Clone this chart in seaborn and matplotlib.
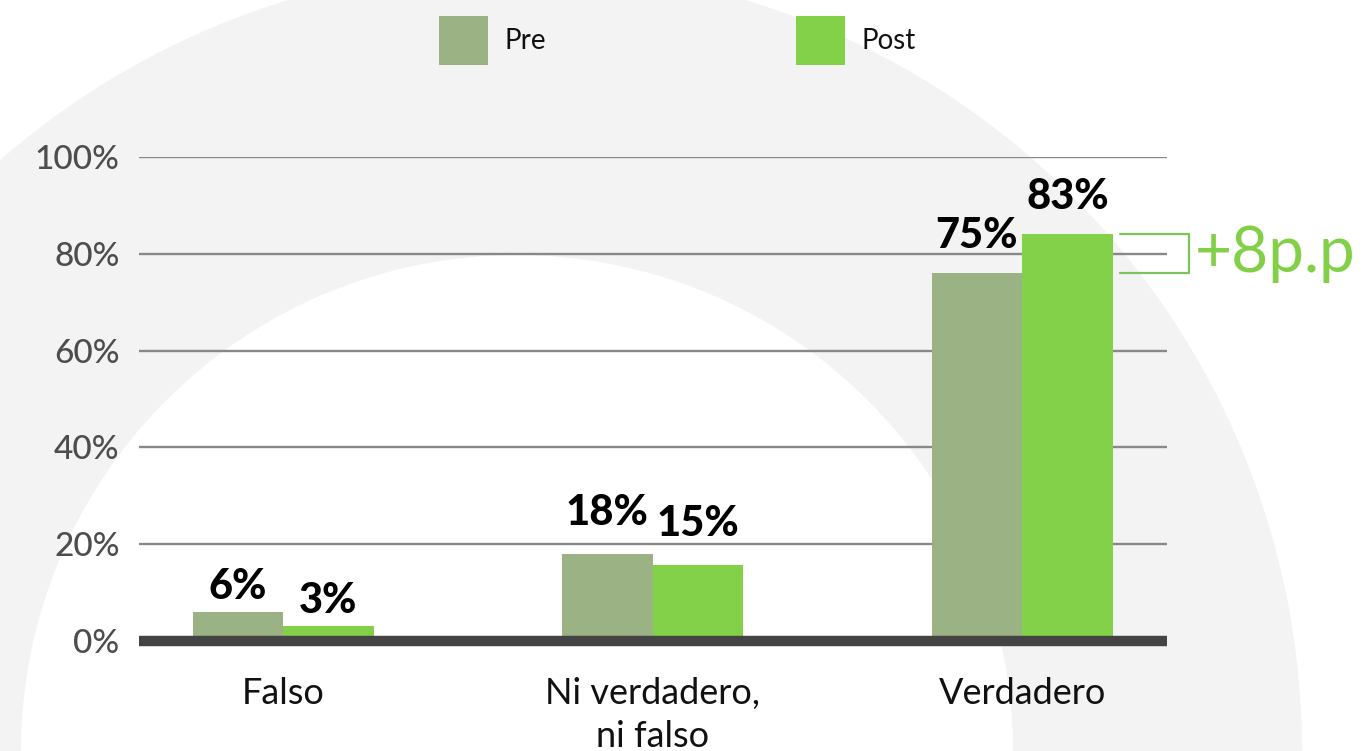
import matplotlib
matplotlib.use("Agg")
import matplotlib.pyplot as plt
import matplotlib.transforms as mtransforms
from matplotlib.patches import Wedge
import seaborn as sns
import pandas as pd

# data
categories = ["Falso", "Ni verdadero,\nni falso", "Verdadero"]
series = ["Pre", "Post"]
pre_values = [6.0, 17.9, 76.0]
post_values = [3.1, 15.7, 84.1]
pre_labels = ["6%", "18%", "75%"]
post_labels = ["3%", "15%", "83%"]
y_ticks = [0, 20, 40, 60, 80, 100]
y_tick_labels = ["0%", "20%", "40%", "60%", "80%", "100%"]
diff_label = "+8p.p"

colors = ["#9bb384", "#82d148"]

df = pd.DataFrame({
    "categoria": categories * 2,
    "valor": pre_values + post_values,
    "momento": [series[0]] * len(categories) + [series[1]] * len(categories),
})

sns.set_style("white")
plt.rcParams["font.family"] = ["Lato", "DejaVu Sans"]

W, H = 1372, 751
fig = plt.figure(figsize=(W / 100, H / 100), dpi=100)

# light grey ring in the background
bg = fig.add_axes([0, 0, 1, 1], zorder=0)
bg.set_xlim(0, W)
bg.set_ylim(H, 0)
bg.axis("off")
bg.add_patch(Wedge((517, 751), 785, 0, 360, width=289, color="#f3f3f3", lw=0))

ax = fig.add_axes([139 / W, (H - 641) / H, 1028 / W, 484 / H], zorder=1)
ax.patch.set_alpha(0)

sns.barplot(data=df, x="categoria", y="valor", hue="momento", hue_order=series,
            palette=colors, width=0.49, saturation=1, linewidth=0,
            ax=ax, zorder=2)

ax.set_xlim(-0.39, 2.392)
ax.set_ylim(0, 100)
ax.set_yticks(y_ticks, y_tick_labels)
for y in y_ticks[1:]:
    ax.axhline(y, color="#888888", lw=1.7, zorder=1)
ax.axhline(0, color="#444444", lw=7.5, zorder=3, clip_on=False,
           solid_capstyle="butt")

sns.despine(ax=ax, left=True, bottom=True)
ax.set_xlabel("")
ax.set_ylabel("")
ax.tick_params(axis="y", length=0, pad=14, labelsize=24, labelcolor="#4d4d4d")
ax.tick_params(axis="x", length=0, pad=26, labelsize=26, labelcolor="#111111")
for t in ax.get_yticklabels():
    t.set_fontweight("medium")
for t in ax.get_xticklabels():
    t.set_linespacing(1.35)

# value labels above bars
label_pad = [4, 16, 13]
for cont, labs in zip(ax.containers, [pre_labels, post_labels]):
    for i, (bar, lab) in enumerate(zip(cont, labs)):
        ax.annotate(lab, (bar.get_x() + bar.get_width() / 2, bar.get_height()),
                    xytext=(0, label_pad[i]), textcoords="offset points",
                    ha="center", va="bottom", fontsize=30, fontweight="black",
                    color="#000000")

# legend at the top
handles, labels = ax.get_legend_handles_labels()
ax.legend(handles, labels, loc="upper left", bbox_to_anchor=(439 / W, 1 - 16 / H),
          bbox_transform=fig.transFigure, ncols=2, frameon=False, fontsize=20,
          handlelength=1.76, handleheight=2.35, handletextpad=0.6,
          columnspacing=9.0, borderpad=0, borderaxespad=0, labelcolor="#111111")

# bracket with the difference
trans = mtransforms.blended_transform_factory(ax.transAxes, ax.transData)
ax.plot([0.954, 1.021, 1.021, 0.954],
        [post_values[2], post_values[2], pre_values[2], pre_values[2]],
        transform=trans, color="#7cc35a", lw=1.6, clip_on=False)
ax.text(1.027, (post_values[2] + pre_values[2]) / 2, diff_label, transform=trans,
        ha="left", va="center", fontsize=46, color="#82d048")

fig.savefig("out.png", dpi=100)
